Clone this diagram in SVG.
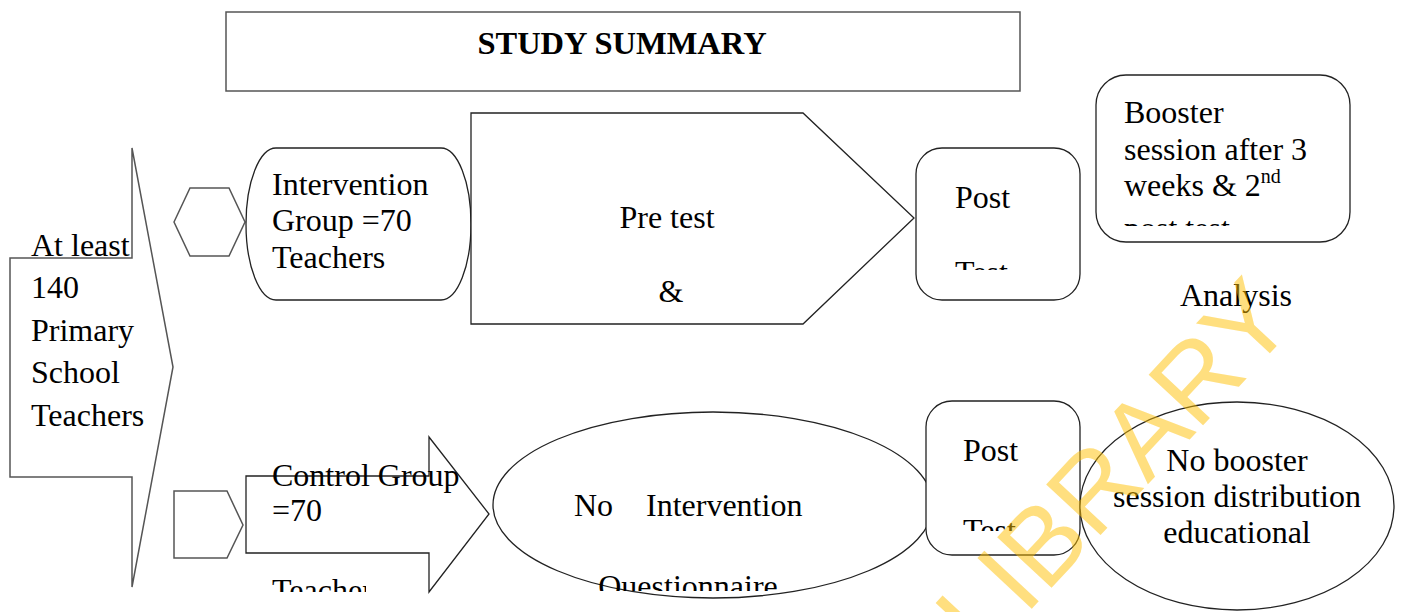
<svg xmlns="http://www.w3.org/2000/svg" width="1403" height="612" viewBox="0 0 1403 612">
<defs>
<style>
.s{fill:#fff;stroke:#222;stroke-width:1.3}
.g{fill:#fff;stroke:#555;stroke-width:1.5}
.t{font-family:"Liberation Serif","Times New Roman",serif;font-size:32px;fill:#000}
.c{text-anchor:middle}
.wm{font-family:"Liberation Sans",Arial,sans-serif;font-size:108px;fill:#FFC000;fill-opacity:0.5}
</style>
<clipPath id="cpPost1"><rect x="916" y="148" width="164" height="122"/></clipPath>
<clipPath id="cpBoost"><rect x="1096" y="75" width="254" height="151"/></clipPath>
<clipPath id="cpCtrl"><rect x="246" y="437" width="120" height="155"/></clipPath>
<clipPath id="cpNoInt"><rect x="493" y="411" width="440" height="180"/></clipPath>
<clipPath id="cpPost2"><rect x="926" y="401" width="154" height="130"/></clipPath>
</defs>

<g id="title">
<rect class="g" x="226" y="12" width="794" height="79"/>
<text class="t c" x="622" y="54" style="font-weight:bold;font-size:32.5px">STUDY SUMMARY</text>
</g>

<g id="teachers">
<polygon class="g" points="10,258 132,258 132,148 173,367 132,587 132,477 10,477"/>
<text class="t" x="31" y="256">At least</text>
<text class="t" x="31" y="298">140</text>
<text class="t" x="31" y="341">Primary</text>
<text class="t" x="31" y="383">School</text>
<text class="t" x="31" y="426">Teachers</text>
</g>

<g id="connectors">
<polygon class="g" points="174,222 190,188 229,188 245,222 229,256 190,256"/>
<polygon class="g" points="174,491 227,491 243,525 227,558 174,558"/>
</g>

<g id="intervention">
<rect class="s" x="246" y="148" width="225" height="152" rx="30" ry="76"/>
<text class="t" x="272" y="195">Intervention</text>
<text class="t" x="272" y="231">Group =70</text>
<text class="t" x="272" y="268">Teachers</text>
</g>

<g id="pretest">
<polygon class="s" points="471,113 803,113 914,218 803,324 471,324"/>
<text class="t c" x="667" y="228">Pre test</text>
<text class="t c" x="671" y="302">&amp;</text>
</g>

<g id="posttest1">
<rect class="s" x="916" y="148" width="164" height="152" rx="26"/>
<g clip-path="url(#cpPost1)">
<text class="t" x="955" y="208">Post</text>
<text class="t" x="955" y="283">Test</text>
</g>
</g>

<g id="booster">
<rect class="s" x="1096" y="75" width="254" height="167" rx="30"/>
<g clip-path="url(#cpBoost)">
<text class="t" x="1124" y="123">Booster</text>
<text class="t" x="1124" y="160">session after 3</text>
<text class="t" x="1124" y="196">weeks &amp; 2<tspan dy="-13" style="font-size:20px">nd</tspan></text>
<text class="t" x="1124" y="239">post test</text>
</g>
</g>

<g id="analysis">
<text class="t" x="1180" y="306">Analysis</text>
</g>

<g id="control">
<polygon class="s" points="246,476 429,476 429,437 489,514 429,592 429,553 246,553"/>
<text class="t" x="272" y="486">Control Group</text>
<text class="t" x="272" y="521">=70</text>
<g clip-path="url(#cpCtrl)">
<text class="t" x="272" y="601">Teachers</text>
</g>
</g>

<g id="nointervention">
<ellipse class="s" cx="713" cy="505" rx="220" ry="93"/>
<text class="t" x="574" y="516">No</text>
<text class="t" x="646" y="516">Intervention</text>
<g clip-path="url(#cpNoInt)">
<text class="t c" x="688" y="597">Questionnaire</text>
</g>
</g>

<g id="posttest2">
<rect class="s" x="926" y="401" width="154" height="154" rx="26"/>
<g clip-path="url(#cpPost2)">
<text class="t" x="963" y="461">Post</text>
<text class="t" x="963" y="541">Test</text>
</g>
</g>

<g id="nobooster">
<ellipse class="s" cx="1237" cy="506" rx="157" ry="104"/>
<text class="t c" x="1237" y="471">No booster</text>
<text class="t c" x="1237" y="507">session distribution</text>
<text class="t c" x="1237" y="543">educational</text>
</g>

<text class="wm" transform="translate(984,660) rotate(-47)">LIBRARY</text>
</svg>
